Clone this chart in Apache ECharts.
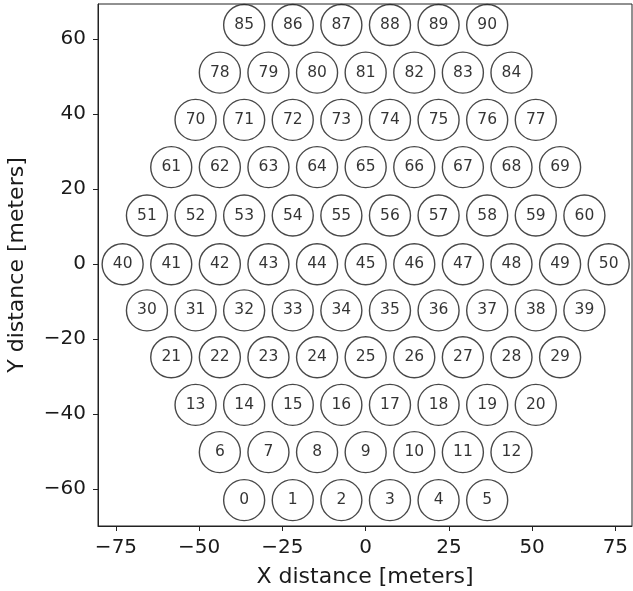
<!DOCTYPE html>
<html>
<head>
<meta charset="utf-8">
<script src="https://cdn.jsdelivr.net/npm/echarts@6/dist/echarts.min.js"></script>
<style>
html,body{margin:0;padding:0;background:#fff;}
#chart{width:633px;height:591px;}
</style>
</head>
<body>
<div id="chart"></div>
<script>
// Turbine x positions [meters], listed row by row (ids 0..90)
const turbineX = [
  -36.5, -21.9, -7.3, 7.3, 21.9, 36.5,
  -43.8, -29.2, -14.6, 0, 14.6, 29.2, 43.8,
  -51.1, -36.5, -21.9, -7.3, 7.3, 21.9, 36.5, 51.1,
  -58.4, -43.8, -29.2, -14.6, 0, 14.6, 29.2, 43.8, 58.4,
  -65.7, -51.1, -36.5, -21.9, -7.3, 7.3, 21.9, 36.5, 51.1, 65.7,
  -73.0, -58.4, -43.8, -29.2, -14.6, 0, 14.6, 29.2, 43.8, 58.4, 73.0,
  -65.7, -51.1, -36.5, -21.9, -7.3, 7.3, 21.9, 36.5, 51.1, 65.7,
  -58.4, -43.8, -29.2, -14.6, 0, 14.6, 29.2, 43.8, 58.4,
  -51.1, -36.5, -21.9, -7.3, 7.3, 21.9, 36.5, 51.1,
  -43.8, -29.2, -14.6, 0, 14.6, 29.2, 43.8,
  -36.5, -21.9, -7.3, 7.3, 21.9, 36.5
];
// Turbine y positions [meters]
const turbineY = [
  -62.9, -62.9, -62.9, -62.9, -62.9, -62.9,
  -50.1, -50.1, -50.1, -50.1, -50.1, -50.1, -50.1,
  -37.5, -37.5, -37.5, -37.5, -37.5, -37.5, -37.5, -37.5,
  -24.8, -24.8, -24.8, -24.8, -24.8, -24.8, -24.8, -24.8, -24.8,
  -12.3, -12.3, -12.3, -12.3, -12.3, -12.3, -12.3, -12.3, -12.3, -12.3,
  0, 0, 0, 0, 0, 0, 0, 0, 0, 0, 0,
  13.0, 13.0, 13.0, 13.0, 13.0, 13.0, 13.0, 13.0, 13.0, 13.0,
  25.9, 25.9, 25.9, 25.9, 25.9, 25.9, 25.9, 25.9, 25.9,
  38.5, 38.5, 38.5, 38.5, 38.5, 38.5, 38.5, 38.5,
  51.1, 51.1, 51.1, 51.1, 51.1, 51.1, 51.1,
  63.8, 63.8, 63.8, 63.8, 63.8, 63.8
];
const turbineIds = turbineX.map((_, i) => i);
const xTicks = [-75, -50, -25, 0, 25, 50, 75];
const yTicks = [-60, -40, -20, 0, 20, 40, 60];

const points = turbineX.map((x, i) => [x, turbineY[i], turbineIds[i]]);
const FONT = 'DejaVu Sans';
const minusFmt = v => String(v).replace('-', '\u2212');

const chart = echarts.init(document.getElementById('chart'), null, {renderer: 'canvas'});
chart.setOption({
  animation: false,
  backgroundColor: '#fff',
  grid: {
    left: 98, right: 1, top: 4, bottom: 65,
    outerBoundsMode: 'none', containLabel: false,
    show: true, borderColor: '#222', borderWidth: 1, backgroundColor: 'transparent'
  },
  xAxis: {
    type: 'value', min: -80.4, max: 80,
    name: 'X distance [meters]', nameLocation: 'middle', nameGap: 40,
    nameTextStyle: {fontFamily: FONT, fontSize: 22, color: '#1a1a1a'},
    splitLine: {show: false},
    axisLine: {show: true, onZero: false, lineStyle: {color: '#222', width: 1}},
    axisTick: {show: true, length: 5, inside: false, customValues: xTicks, lineStyle: {color: '#222'}},
    axisLabel: {customValues: xTicks, margin: 12, fontFamily: FONT, fontSize: 20, color: '#1a1a1a', formatter: minusFmt}
  },
  yAxis: {
    type: 'value', min: -69.8, max: 69.4,
    name: 'Y distance [meters]', nameLocation: 'middle', nameGap: 70, nameRotate: 90,
    nameTextStyle: {fontFamily: FONT, fontSize: 22, color: '#1a1a1a'},
    splitLine: {show: false},
    axisLine: {show: true, onZero: false, lineStyle: {color: '#222', width: 1}},
    axisTick: {show: true, length: 5, inside: false, customValues: yTicks, lineStyle: {color: '#222'}},
    axisLabel: {customValues: yTicks, margin: 12, fontFamily: FONT, fontSize: 20, color: '#1a1a1a', formatter: minusFmt}
  },
  series: [{
    type: 'scatter',
    data: points,
    symbol: 'circle',
    symbolSize: 41,
    itemStyle: {color: 'rgba(0,0,0,0)', borderColor: '#1a1a1a', borderWidth: 1.4},
    label: {
      show: true, position: 'inside',
      formatter: p => String(p.value[2]),
      fontFamily: FONT, fontSize: 15.5, color: '#000'
    },
    emphasis: {disabled: true},
    silent: true
  }]
});
</script>
</body>
</html>
